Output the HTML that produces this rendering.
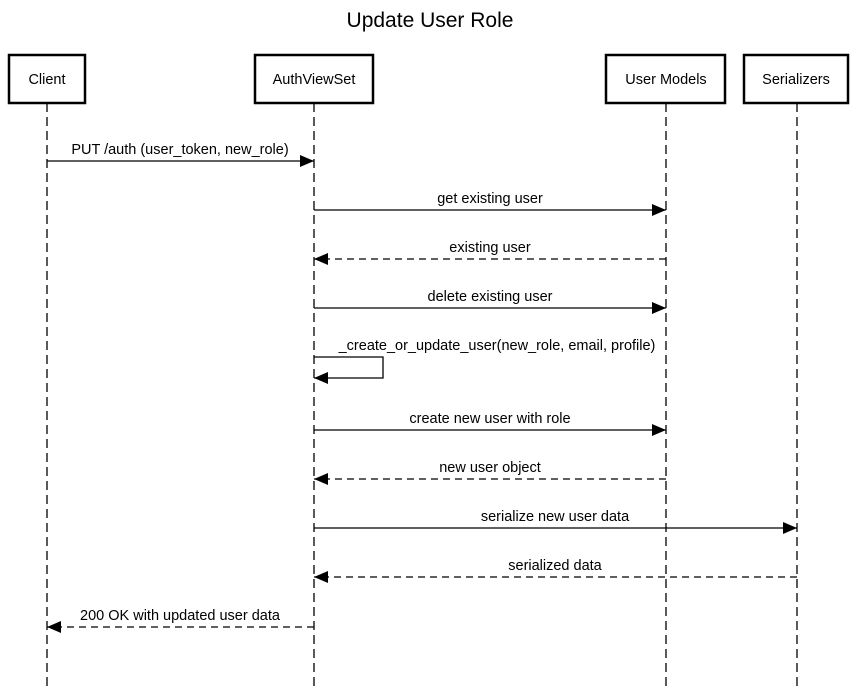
<!DOCTYPE html>
<html><head><meta charset="utf-8"><style>
body{margin:0;background:#fff}
svg{display:block;font-family:"Liberation Sans",Arial,sans-serif}
</style></head><body>
<svg width="859" height="688" viewBox="0 0 859 688" xmlns="http://www.w3.org/2000/svg">
<text x="430" y="27" font-size="21" text-anchor="middle">Update User Role</text>
<g stroke="#000" stroke-width="1.3" stroke-dasharray="9,5">
<line x1="47" y1="103" x2="47" y2="688"/>
<line x1="314" y1="103" x2="314" y2="688"/>
<line x1="666" y1="103" x2="666" y2="688"/>
<line x1="797" y1="103" x2="797" y2="688"/>
</g>
<g fill="#fff" stroke="#000" stroke-width="2.5">
<rect x="9" y="55" width="76" height="48"/>
<rect x="255" y="55" width="118" height="48"/>
<rect x="606" y="55" width="119" height="48"/>
<rect x="744" y="55" width="104" height="48"/>
</g>
<g font-size="14.5" text-anchor="middle">
<text x="47" y="84">Client</text>
<text x="314" y="84">AuthViewSet</text>
<text x="666" y="84">User Models</text>
<text x="796" y="84">Serializers</text>
</g>
<defs>
<marker id="a" markerWidth="14" markerHeight="12" refX="14" refY="6" orient="auto" markerUnits="userSpaceOnUse"><path d="M0,0 L14,6 L0,12 z" fill="#000"/></marker>
</defs>
<g stroke="#000" stroke-width="1.3" fill="none" marker-end="url(#a)">
<line x1="47" y1="161" x2="314" y2="161"/>
<line x1="314" y1="210" x2="666" y2="210"/>
<line x1="666" y1="259" x2="314" y2="259" stroke-dasharray="7,5"/>
<line x1="314" y1="308" x2="666" y2="308"/>
<path d="M314,357 H383 V378 H314"/>
<line x1="314" y1="430" x2="666" y2="430"/>
<line x1="666" y1="479" x2="314" y2="479" stroke-dasharray="7,5"/>
<line x1="314" y1="528" x2="797" y2="528"/>
<line x1="797" y1="577" x2="314" y2="577" stroke-dasharray="7,5"/>
<line x1="314" y1="627" x2="47" y2="627" stroke-dasharray="7,5"/>
</g>
<g font-size="14.5" text-anchor="middle">
<text x="180" y="154">PUT /auth (user_token, new_role)</text>
<text x="490" y="203">get existing user</text>
<text x="490" y="252">existing user</text>
<text x="490" y="301">delete existing user</text>
<text x="497" y="350">_create_or_update_user(new_role, email, profile)</text>
<text x="490" y="423">create new user with role</text>
<text x="490" y="472">new user object</text>
<text x="555" y="521">serialize new user data</text>
<text x="555" y="570">serialized data</text>
<text x="180" y="620">200 OK with updated user data</text>
</g>
</svg>
</body></html>
